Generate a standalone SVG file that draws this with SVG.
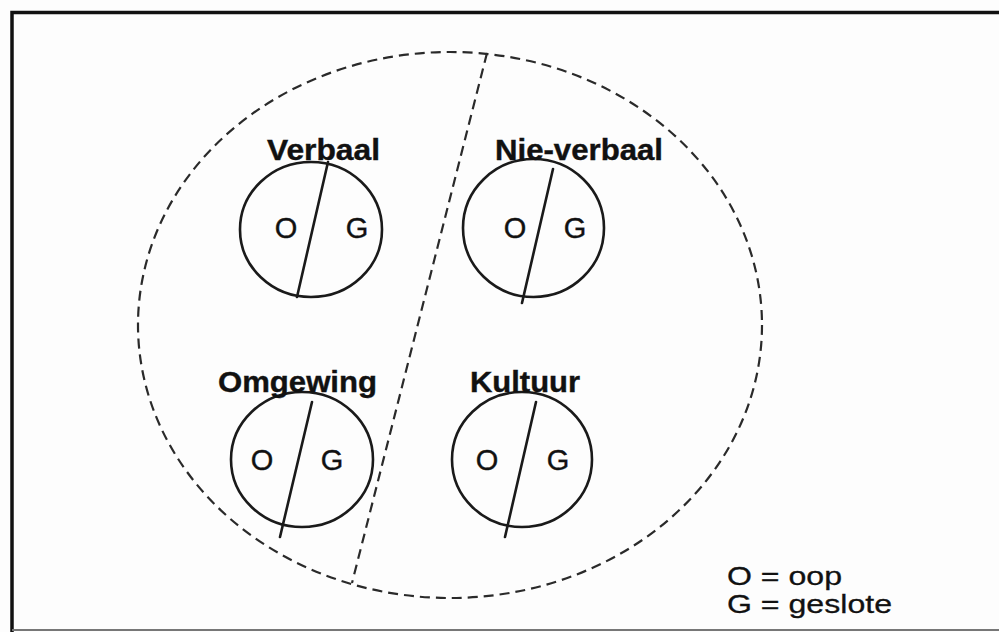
<svg xmlns="http://www.w3.org/2000/svg" width="999" height="632" viewBox="0 0 999 632">
  <style>
    .ring { fill: none; stroke: #1a1a1a; stroke-width: 2.6; }
    .split { stroke: #1a1a1a; stroke-width: 2.6; stroke-linecap: round; }
    .dash { fill: none; stroke: #2a2a2a; stroke-width: 2.2; stroke-dasharray: 10 6; }
    .label { font-family: "Liberation Sans", Arial, sans-serif; font-weight: bold; font-size: 29px; fill: #111; stroke: #111; stroke-width: 0.4; }
    .og { font-family: "Liberation Sans", Arial, sans-serif; font-size: 29px; fill: #111; stroke: #111; stroke-width: 0.4; text-anchor: middle; }
    .legend { font-family: "Liberation Sans", Arial, sans-serif; font-size: 26px; fill: #111; stroke: #111; stroke-width: 0.3; }
  </style>
  <rect x="0" y="0" width="999" height="632" fill="#fdfdfd"/>
  <g id="frame">
    <path d="M12 632 V12.5 H999" fill="none" stroke="#111" stroke-width="3.5"/>
    <path d="M12 630 H999" fill="none" stroke="#777" stroke-width="2"/>
  </g>
  <g id="container">
    <ellipse class="dash" cx="450" cy="325" rx="312" ry="273"/>
  </g>
  <g id="connectors">
    <line class="dash" x1="487" y1="53" x2="352" y2="583" stroke-dasharray="12 7"/>
  </g>
  <g id="node-verbaal">
    <ellipse class="ring" cx="311" cy="229.5" rx="71" ry="67.5"/>
    <line class="split" x1="328" y1="162" x2="297" y2="297"/>
    <text class="og" x="286" y="238">O</text>
    <text class="og" x="357" y="238">G</text>
    <text class="label" x="267" y="160" textLength="113" lengthAdjust="spacingAndGlyphs">Verbaal</text>
  </g>
  <g id="node-nie-verbaal">
    <ellipse class="ring" cx="533.5" cy="228" rx="70.5" ry="69"/>
    <line class="split" x1="553" y1="169" x2="522" y2="303"/>
    <text class="og" x="515" y="238">O</text>
    <text class="og" x="575" y="238">G</text>
    <text class="label" x="495" y="160" textLength="168" lengthAdjust="spacingAndGlyphs">Nie-verbaal</text>
  </g>
  <g id="node-omgewing">
    <ellipse class="ring" cx="302" cy="459.5" rx="71" ry="67.5"/>
    <line class="split" x1="312" y1="402" x2="280" y2="537"/>
    <text class="og" x="262" y="470">O</text>
    <text class="og" x="332" y="470">G</text>
    <text class="label" x="218" y="392" textLength="159" lengthAdjust="spacingAndGlyphs">Omgewing</text>
  </g>
  <g id="node-kultuur">
    <ellipse class="ring" cx="522" cy="459.5" rx="70" ry="67.5"/>
    <line class="split" x1="536" y1="402" x2="505" y2="537"/>
    <text class="og" x="487" y="470">O</text>
    <text class="og" x="558" y="470">G</text>
    <text class="label" x="470" y="392" textLength="110" lengthAdjust="spacingAndGlyphs">Kultuur</text>
  </g>
  <g id="legend">
    <text class="legend" x="727" y="585" textLength="115" lengthAdjust="spacingAndGlyphs">O = oop</text>
    <text class="legend" x="727" y="613" textLength="165" lengthAdjust="spacingAndGlyphs">G = geslote</text>
  </g>
</svg>
